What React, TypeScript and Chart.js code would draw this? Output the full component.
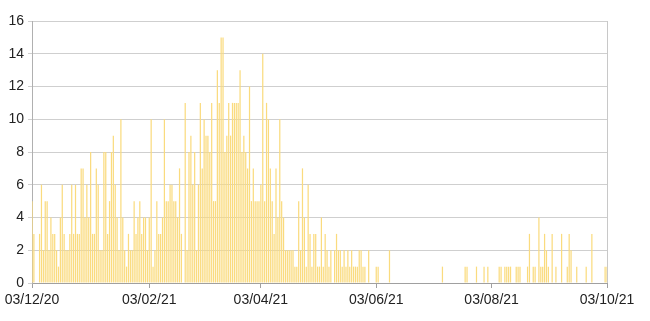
import React, { useEffect, useRef } from "react";
import { Chart, registerables } from "chart.js";

Chart.register(...registerables);

// First day of the daily series (dd/mm/yy 03/12/20)
const START_DATE = "2020-12-03";

// Daily values, one per day from 03/12/20 to 03/10/21
const DAILY_VALUES: number[] = [
  5, 3, 0, 0, 3, 6, 2, 5, 5, 2,
  4, 3, 3, 2, 1, 4, 6, 3, 2, 2,
  3, 6, 3, 6, 3, 3, 7, 7, 4, 6,
  4, 8, 3, 3, 7, 6, 2, 2, 8, 8,
  3, 5, 8, 9, 6, 4, 2, 10, 4, 2,
  1, 3, 2, 2, 5, 3, 4, 5, 3, 4,
  4, 2, 4, 10, 1, 2, 5, 3, 3, 4,
  10, 5, 5, 6, 6, 5, 5, 4, 7, 3,
  0, 11, 2, 8, 9, 6, 8, 2, 6, 11,
  7, 10, 9, 9, 8, 11, 5, 5, 13, 11,
  15, 15, 8, 9, 11, 9, 11, 11, 11, 11,
  13, 8, 9, 8, 7, 12, 5, 7, 5, 5,
  5, 6, 14, 5, 11, 10, 7, 5, 3, 7,
  4, 10, 5, 4, 2, 2, 2, 2, 2, 1,
  1, 5, 2, 7, 4, 1, 6, 3, 1, 3,
  3, 1, 1, 4, 1, 3, 2, 1, 2, 0,
  2, 3, 2, 2, 1, 2, 1, 2, 1, 2,
  1, 1, 1, 2, 2, 1, 1, 0, 2, 0,
  0, 0, 1, 1, 0, 0, 0, 0, 0, 2,
  0, 0, 0, 0, 0, 0, 0, 0, 0, 0,
  0, 0, 0, 0, 0, 0, 0, 0, 0, 0,
  0, 0, 0, 0, 0, 0, 0, 1, 0, 0,
  0, 0, 0, 0, 0, 0, 0, 0, 0, 1,
  1, 0, 0, 0, 0, 1, 0, 0, 0, 1,
  0, 1, 0, 0, 0, 0, 0, 1, 1, 0,
  1, 1, 1, 1, 0, 0, 1, 1, 1, 0,
  0, 0, 1, 3, 0, 1, 1, 0, 4, 1,
  1, 3, 2, 1, 0, 3, 0, 1, 0, 0,
  3, 0, 0, 1, 3, 2, 0, 0, 1, 0,
  0, 0, 0, 1, 0, 0, 3, 0, 0, 0,
  0, 0, 0, 1, 1,
];

// X tick labels (dd/mm/yy)
const X_TICK_LABELS = ["03/12/20", "03/02/21", "03/04/21", "03/06/21", "03/08/21", "03/10/21"];

// Y axis range
const Y_MIN = 0;
const Y_MAX = 16;
const Y_STEP = 2;

const DAY_MS = 86400000;
const startMs = Date.parse(START_DATE + "T00:00:00Z");
const labelToDay = (s: string) => {
  const [dd, mm, yy] = s.split("/").map(Number);
  return Math.round((Date.UTC(2000 + yy, mm - 1, dd) - startMs) / DAY_MS);
};
const TICK_DAYS = X_TICK_LABELS.map(labelToDay);

export default function App() {
  const ref = useRef<HTMLCanvasElement | null>(null);

  useEffect(() => {
    document.body.style.margin = "0";
    const canvas = ref.current;
    if (!canvas) return;
    const points = DAILY_VALUES.map((v, i) => ({ x: i, y: v }));
    const lastDay = TICK_DAYS[TICK_DAYS.length - 1];
    const chart = new Chart(canvas, {
      type: "bar",
      data: {
        datasets: [
          {
            data: points as any,
            backgroundColor: "#FADB7E",
            borderWidth: 0,
            categoryPercentage: 1,
            barPercentage: 0.65,
          },
        ],
      },
      options: {
        animation: false,
        responsive: false,
        maintainAspectRatio: false,
        layout: { padding: { left: 0, right: 43, top: 21, bottom: 0 } },
        plugins: { legend: { display: false }, tooltip: { enabled: false } },
        scales: {
          x: {
            type: "linear",
            min: TICK_DAYS[0],
            max: lastDay,
            offset: false,
            afterBuildTicks: (scale: any) => {
              scale.ticks = TICK_DAYS.map((d) => ({ value: d }));
            },
            afterFit: (scale: any) => {
              scale.height = 38;
            },
            ticks: {
              autoSkip: false,
              maxRotation: 0,
              minRotation: 0,
              padding: 4,
              color: "#222",
              font: { family: "'Liberation Sans', Arial, sans-serif", size: 14 },
              callback: (value: any) => {
                const idx = TICK_DAYS.indexOf(Number(value));
                return idx >= 0 ? X_TICK_LABELS[idx] : "";
              },
            },
            grid: {
              offset: false,
              drawOnChartArea: true,
              color: (ctx: any) =>
                ctx.tick && ctx.tick.value === lastDay ? "#c8c8c8" : "rgba(0,0,0,0)",
              tickColor: "#a0a0a0",
              tickLength: 5,
              lineWidth: 1,
            },
            border: { display: true, color: "#a0a0a0", width: 1 },
          },
          y: {
            type: "linear",
            min: Y_MIN,
            max: Y_MAX,
            afterFit: (scale: any) => {
              scale.width = 32;
            },
            ticks: {
              stepSize: Y_STEP,
              padding: 4,
              color: "#222",
              font: { family: "'Liberation Sans', Arial, sans-serif", size: 14 },
            },
            grid: {
              color: "#cfcfcf",
              tickColor: "#cfcfcf",
              tickLength: 4,
              lineWidth: 1,
            },
            border: { display: true, color: "#b0b0b0", width: 1 },
          },
        },
      },
    });
    return () => chart.destroy();
  }, []);

  return (
    <div style={{ width: 650, height: 321 }}>
      <canvas ref={ref} width={650} height={321} style={{ display: "block" }} />
    </div>
  );
}
